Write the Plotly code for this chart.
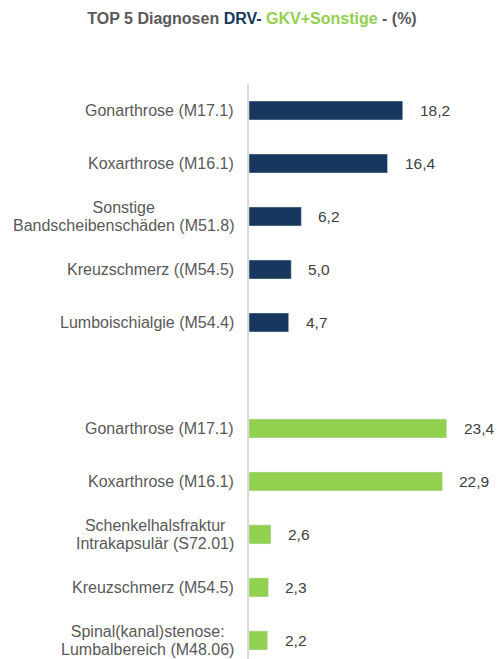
import plotly.graph_objects as go

drv_labels = ["Gonarthrose (M17.1)", "Koxarthrose (M16.1)",
              "Sonstige<br>Bandscheibenschäden (M51.8)",
              "Kreuzschmerz ((M54.5)", "Lumboischialgie (M54.4)"]
drv_values = [18.2, 16.4, 6.2, 5.0, 4.7]

gkv_labels = ["Gonarthrose (M17.1)", "Koxarthrose (M16.1)",
              "Schenkelhalsfraktur<br>Intrakapsulär (S72.01)",
              "Kreuzschmerz (M54.5)",
              "Spinal(kanal)stenose:<br>Lumbalbereich (M48.06)"]
gkv_values = [23.4, 22.9, 2.6, 2.3, 2.2]

DARK = "#17375e"
GREEN = "#92d050"
GRAY = "#595959"
FONT = "Arial, Liberation Sans, sans-serif"

drv_pos = list(range(len(drv_values)))
gkv_pos = [len(drv_values) + 1 + i for i in range(len(gkv_values))]

fig = go.Figure()
fig.add_trace(go.Bar(x=drv_values, y=drv_pos, orientation="h",
                     marker_color=DARK, width=0.36, hoverinfo="skip"))
fig.add_trace(go.Bar(x=gkv_values, y=gkv_pos, orientation="h",
                     marker_color=GREEN, width=0.36, hoverinfo="skip"))


def styled(lab):
    # larger glyphs on a smaller base size => tighter line spacing
    return "<br>".join(f"<span style='font-size:16px'>{part}</span>"
                       for part in lab.split("<br>"))


annotations = []
for labels, values, pos in [(drv_labels, drv_values, drv_pos),
                            (gkv_labels, gkv_values, gkv_pos)]:
    for lab, v, p in zip(labels, values, pos):
        annotations.append(dict(x=0, xref="paper", y=p, yref="y", text=styled(lab),
                                xanchor="right", yanchor="middle", align="center",
                                xshift=-13, showarrow=False,
                                font=dict(family=FONT, size=14, color=GRAY)))
        annotations.append(dict(x=v, xref="x", y=p, yref="y",
                                text=f"{v:.1f}".replace(".", ","),
                                xanchor="left", yanchor="middle", xshift=15,
                                showarrow=False,
                                font=dict(family=FONT, size=15.5, color="#404040")))

title = (f"<b><span style='color:{GRAY}'>TOP 5 Diagnosen </span>"
         f"<span style='color:{DARK}'>DRV- </span>"
         f"<span style='color:{GREEN}'>GKV+Sonstige</span>"
         f"<span style='color:{GRAY}'> - (%)</span></b>")

fig.update_layout(
    width=504, height=659,
    margin=dict(l=249, r=0, t=84, b=0),
    paper_bgcolor="white", plot_bgcolor="white",
    showlegend=False, barmode="overlay",
    title=dict(text=title, x=252 / 504, xref="container", xanchor="center",
               y=1 - 18 / 659, yref="container", yanchor="middle",
               font=dict(family=FONT, size=16, color=GRAY)),
    annotations=annotations,
    xaxis=dict(range=[0, 30.18], showgrid=False, zeroline=False,
               showticklabels=False, ticks="", showline=False),
    yaxis=dict(range=[10.35, -0.5], showgrid=False, zeroline=False,
               showticklabels=False, ticks="", showline=True,
               linecolor="#d9d9d9", linewidth=2),
)

fig.write_html("out.html",
               config={"displayModeBar": False},
               post_script="document.body.style.margin='0';"
                           "document.body.style.overflow='hidden';")
